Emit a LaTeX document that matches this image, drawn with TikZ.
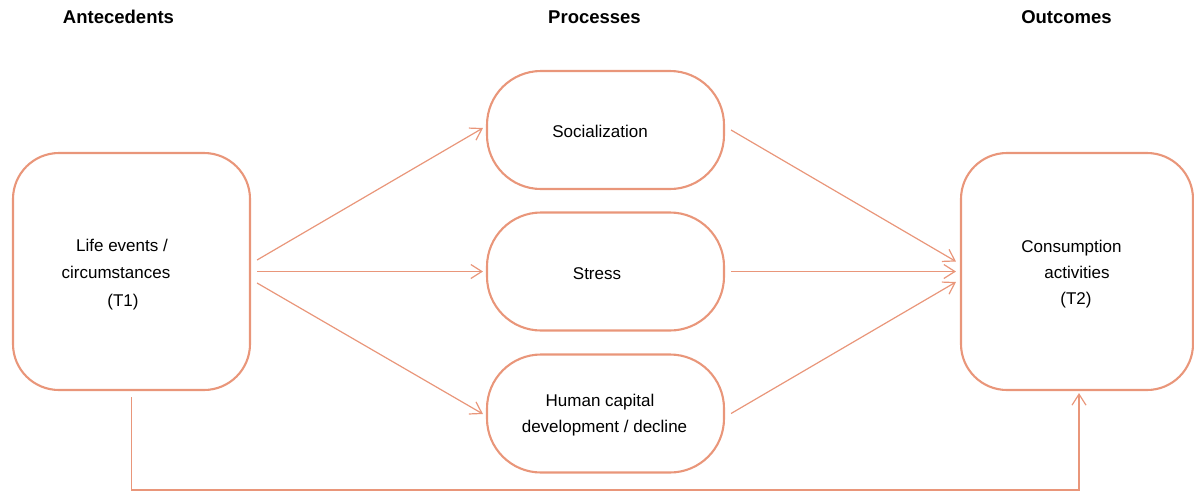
\documentclass[tikz,border=0pt]{standalone}
\usepackage{fontspec}
\setmainfont{Liberation Sans}
\usetikzlibrary{arrows.meta}
\definecolor{salmon}{RGB}{233,150,122}
\newcommand\tsp[1]{\hbox to #1{\hss}}
\tikzset{
  box/.style={draw=salmon, line width=2.1pt, rounded corners=46pt, inner sep=0pt},
  procbox/.style={box, minimum width=237pt, minimum height=118pt, rounded corners=54pt},
  txt/.style={align=center, inner sep=0pt},
  head/.style={font=\fontsize{18.5}{22}\selectfont\bfseries, inner sep=0pt},
  arr/.style={draw=salmon, line width=1.2pt, -{Straight Barb[length=11pt,width=14pt,line width=1.2pt]}},
}
\begin{document}
\begin{tikzpicture}[x=1pt,y=-1pt]
\useasboundingbox (0,0) rectangle (1194,491);
% headers
\node[head] (hA) at (118.5,17) {Antecedents};
\node[head] (hP) at (594.5,17) {Processes};
\node[head] (hO) at (1066.5,17) {Outcomes};
% boxes
\node[box, minimum width=237pt, minimum height=237pt] (L) at (131.5,271.5) {};
\node[box, minimum width=232pt, minimum height=237pt] (R) at (1077,271.5) {};
\node[procbox] (S) at (605.5,130) {};
\node[procbox] (T) at (605.5,271.5) {};
\node[procbox] (H) at (605.5,413.5) {};
% texts
\node[txt, font=\fontsize{17}{27.5}\selectfont, yshift=-3pt] (Lt) at (L)
  {Life events /\tsp{19pt}\\circumstances\tsp{31pt}\\(T1)\tsp{17pt}};
\node[txt, font=\fontsize{17}{26}\selectfont, yshift=-3pt] (Rt) at (R)
  {Consumption\tsp{11pt}\\activities\\(T2)\tsp{2pt}};
\node[txt, font=\fontsize{17}{26}\selectfont, yshift=-1pt] (St) at (S) {Socialization\tsp{11pt}};
\node[txt, font=\fontsize{17}{26}\selectfont, yshift=-2pt] (Tt) at (T) {Stress\tsp{17pt}};
\node[txt, font=\fontsize{17}{26}\selectfont, yshift=-2pt] (Ht) at (H)
  {Human capital\tsp{11pt}\\development / decline\tsp{2pt}};
% arrows left
\draw[arr] ([xshift=6pt,yshift=11.5pt]L.east) -- ([xshift=-3pt,yshift=2pt]S.west);
\draw[arr] ([xshift=6pt]L.east) -- ([xshift=-3pt]T.west);
\draw[arr] ([xshift=6pt,yshift=-11.5pt]L.east) -- ([xshift=-3pt,yshift=-0.5pt]H.west);
% arrows right
\draw[arr] ([xshift=6pt]S.east) -- ([xshift=-4pt,yshift=10pt]R.west);
\draw[arr] ([xshift=6pt]T.east) -- ([xshift=-4pt]R.west);
\draw[arr] ([xshift=6pt]H.east) -- ([xshift=-4pt,yshift=-10.5pt]R.west);
% bottom loop
\coordinate (b1) at (131.5,490);
\coordinate (b2) at (1079,490);
\draw[arr] ([yshift=-6pt]L.south) -- (b1) -- (b2) -- ([xshift=2pt,yshift=-2pt]R.south);
\end{tikzpicture}
\end{document}
